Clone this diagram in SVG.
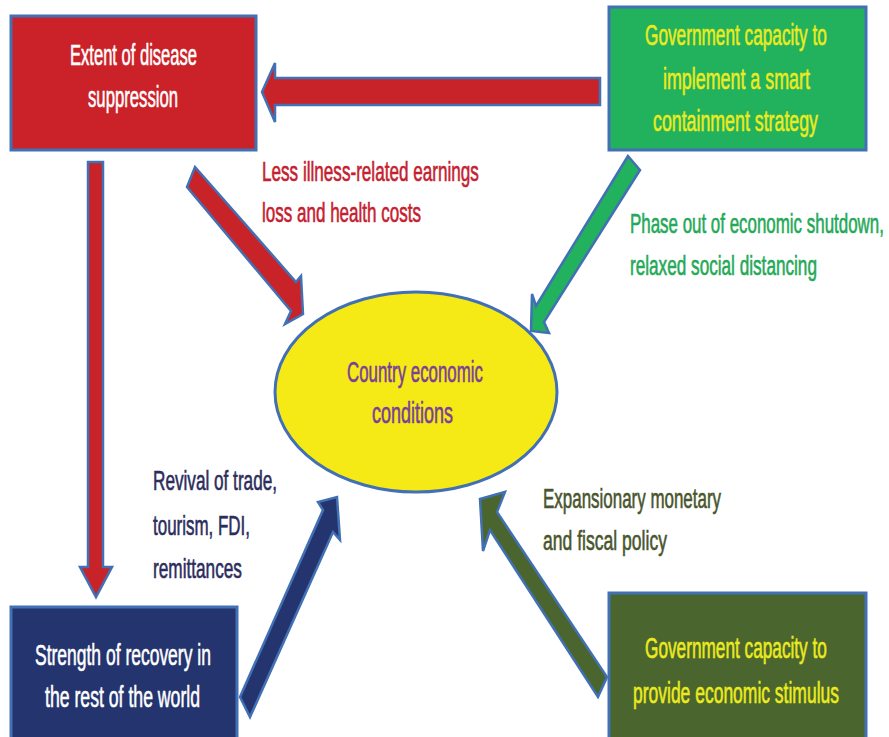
<svg xmlns="http://www.w3.org/2000/svg" width="889" height="737" viewBox="0 0 889 737">
  <style>
    .box { stroke: #4270B4; stroke-width: 3; }
    .arrow { stroke: #4270B4; stroke-width: 2.5; stroke-linejoin: miter; }
    text { font-family: "Liberation Sans", Arial, sans-serif; stroke-width: 0.6; }
    .nt { font-size: 29px; }
    .lb { font-size: 27px; }
    .white { fill: #FFFFFF; stroke: #FFFFFF; }
    .yellow { fill: #ECEB1F; stroke: #ECEB1F; }
    .purple { fill: #7A3F97; stroke: #7A3F97; }
    .red { fill: #C5202E; stroke: #C5202E; }
    .green { fill: #23A957; stroke: #23A957; }
    .navy { fill: #2B2D5C; stroke: #2B2D5C; }
    .olive { fill: #48552D; stroke: #48552D; }
  </style>
  <rect width="889" height="737" fill="#FFFFFF"/>

  <!-- connectors -->
  <g id="connectors">
    <!-- government containment -> disease suppression -->
    <polygon class="arrow" fill="#C9232A" points="600,78 275,78 275,63 262,92 275,122 275,105 600,105"/>
    <!-- disease suppression -> economic conditions -->
    <polygon class="arrow" fill="#C9232A" points="195,167 296,282 301,276 303,314 285,324 291,311 187,187"/>
    <!-- disease suppression -> recovery in rest of world -->
    <polygon class="arrow" fill="#C9232A" points="88,162 103,162 103,567 112,567 96,597 80,567 88,567"/>
    <!-- containment strategy -> economic conditions -->
    <polygon class="arrow" fill="#22B15C" points="628,156 536,306 532,294 531,331 549,333 544,322 640,170"/>
    <!-- rest of world -> economic conditions -->
    <polygon class="arrow" fill="#24346E" points="240,697 323,510 318,502 337,497 340,540 333,532 250,717"/>
    <!-- stimulus -> economic conditions -->
    <polygon class="arrow" fill="#4A662E" points="480,499 505,492 497,512 607,677 598,697 490,530 483,551"/>

    <!-- connector labels (condensed by horizontal scaling) -->
    <text class="lb red" transform="translate(262 181) scale(0.634 1)">Less illness-related earnings</text>
    <text class="lb red" transform="translate(262 222) scale(0.631 1)">loss and health costs</text>
    <text class="lb green" transform="translate(630 233) scale(0.627 1)">Phase out of economic shutdown,</text>
    <text class="lb green" transform="translate(630 275) scale(0.636 1)">relaxed social distancing</text>
    <text class="lb navy" transform="translate(153 490) scale(0.636 1)">Revival of trade,</text>
    <text class="lb navy" transform="translate(153 535) scale(0.628 1)">tourism, FDI,</text>
    <text class="lb navy" transform="translate(153 578) scale(0.638 1)">remittances</text>
    <text class="lb olive" transform="translate(543 508) scale(0.628 1)">Expansionary monetary</text>
    <text class="lb olive" transform="translate(543 550) scale(0.651 1)">and fiscal policy</text>
  </g>

  <!-- nodes -->
  <g id="disease-suppression">
    <rect class="box" x="11" y="16" width="245" height="134" fill="#CB2229"/>
    <text class="nt white" transform="translate(70 65) scale(0.571 1)">Extent of disease</text>
    <text class="nt white" transform="translate(88 107) scale(0.576 1)">suppression</text>
  </g>

  <g id="containment-capacity">
    <rect class="box" x="609" y="7" width="257" height="143" fill="#22B15C"/>
    <text class="nt yellow" transform="translate(645 45) scale(0.594 1)">Government capacity to</text>
    <text class="nt yellow" transform="translate(663 89) scale(0.616 1)">implement a smart</text>
    <text class="nt yellow" transform="translate(653 131) scale(0.613 1)">containment strategy</text>
  </g>

  <g id="economic-conditions">
    <ellipse class="box" cx="416" cy="392" rx="141" ry="100" fill="#F6EA16" stroke-width="2.5"/>
    <text class="nt purple" transform="translate(347 382) scale(0.582 1)">Country economic</text>
    <text class="nt purple" transform="translate(372 423) scale(0.620 1)">conditions</text>
  </g>

  <g id="world-recovery">
    <rect class="box" x="11" y="607" width="226" height="140" fill="#24346E"/>
    <text class="nt white" transform="translate(35 665) scale(0.603 1)">Strength of recovery in</text>
    <text class="nt white" transform="translate(45 707) scale(0.609 1)">the rest of the world</text>
  </g>

  <g id="stimulus-capacity">
    <rect class="box" x="609" y="593" width="257" height="154" fill="#4A662E"/>
    <text class="nt yellow" transform="translate(645 658) scale(0.594 1)">Government capacity to</text>
    <text class="nt yellow" transform="translate(633 703) scale(0.603 1)">provide economic stimulus</text>
  </g>
</svg>
